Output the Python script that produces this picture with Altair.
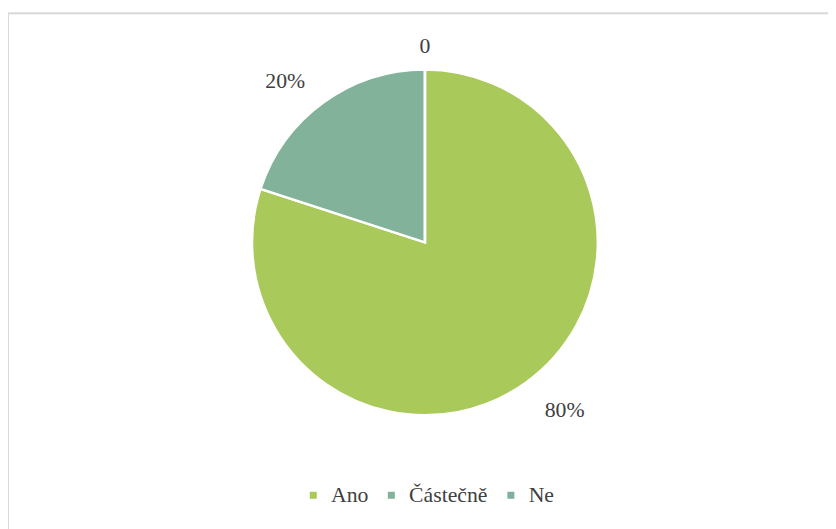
import altair as alt
import pandas as pd

categories = ["Ano", "Částečně", "Ne"]
values = [80, 20, 0]
labels = ["80%", "20%", "0"]
colors = ["#A9CA5B", "#82B29A", "#7FB19C"]

df = pd.DataFrame({
    "category": categories,
    "value": values,
    "label": labels,
    "ord": list(range(len(categories))),
})

CX, CY = 422, 232
FONT = "Liberation Serif"

base = alt.Chart(df).encode(
    theta=alt.Theta("value:Q", stack=True),
    order=alt.Order("ord:Q", sort="ascending"),
)

pie = base.mark_arc(radius=175, stroke="white", strokeWidth=2.5).encode(
    x=alt.value(CX),
    y=alt.value(CY),
    color=alt.Color(
        "category:N",
        scale=alt.Scale(domain=categories, range=colors),
        legend=alt.Legend(
            title=None,
            orient="none",
            legendX=298,
            legendY=477,
            direction="horizontal",
            symbolType="square",
            symbolSize=50,
            symbolStrokeWidth=0,
            labelFont=FONT,
            labelFontSize=22,
            labelColor="#404040",
            labelOffset=7,
            columnPadding=12,
        ),
    ),
)

offsets = {"Ano": (18, 0, 210), "Částečně": (-18, 7, 210), "Ne": (0, 0, 199)}
text_layers = []
for cat, (dx, dy, r) in offsets.items():
    text_layers.append(
        base.mark_text(radius=r, font=FONT, fontSize=22, color="#404040", dx=dx, dy=dy)
        .encode(
            x=alt.value(CX),
            y=alt.value(CY),
            text=alt.condition(alt.datum.category == cat, "label:N", alt.value("")),
        )
    )

border = alt.Chart(pd.DataFrame({"a": [0]})).mark_rect(
    fill=None, stroke="#D9D9D9", strokeWidth=2
).encode(x=alt.value(0), x2=alt.value(840), y=alt.value(0), y2=alt.value(530))

chart = alt.layer(border, pie, *text_layers).properties(
    width=830,
    height=525,
    autosize=alt.AutoSizeParams(type="none"),
    padding={"left": 0, "top": 2, "right": 0, "bottom": 0},
).configure_view(stroke=None).configure(font=FONT)

chart.save("out.html", embed_options={"renderer": "svg", "actions": False})
